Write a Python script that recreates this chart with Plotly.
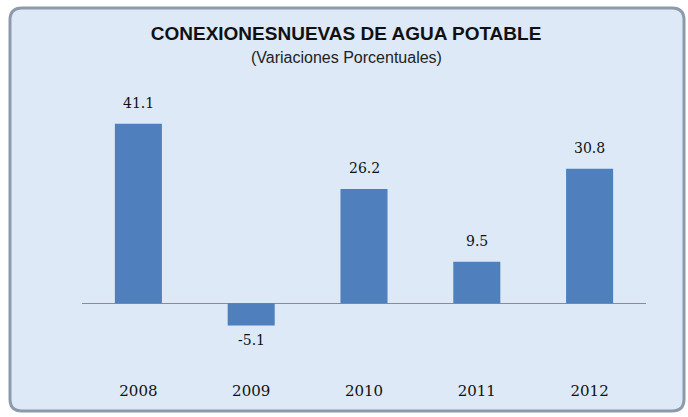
import plotly.graph_objects as go

years = ["2008", "2009", "2010", "2011", "2012"]
values = [41.1, -5.1, 26.2, 9.5, 30.8]
value_labels = ["41.1", "-5.1", "26.2", "9.5", "30.8"]

W, H = 688, 417
L, R, T, B = 82, 42, 85, 70
pw = W - L - R
ph = H - T - B

def px_to_paper(x, y):
    return (x - L) / pw, (H - B - y) / ph

# rounded frame path in paper coordinates
x0p, y0p, x1p, y1p, r = 10, 8, 684, 411, 12
def P(x, y):
    a, b = px_to_paper(x, y)
    return f"{a:.5f},{b:.5f}"
path = (f"M {P(x0p + r, y0p)} L {P(x1p - r, y0p)} Q {P(x1p, y0p)} {P(x1p, y0p + r)} "
        f"L {P(x1p, y1p - r)} Q {P(x1p, y1p)} {P(x1p - r, y1p)} "
        f"L {P(x0p + r, y1p)} Q {P(x0p, y1p)} {P(x0p, y1p - r)} "
        f"L {P(x0p, y0p + r)} Q {P(x0p, y0p)} {P(x0p + r, y0p)} Z")

fig = go.Figure()
fig.add_trace(go.Bar(
    x=years, y=values,
    marker=dict(color="#4F7FBD", line=dict(width=0)),
    hoverinfo="skip",
))

annotations = []
for i, (v, lab) in enumerate(zip(values, value_labels)):
    annotations.append(dict(
        x=i, y=v, xref="x", yref="y", text=lab, showarrow=False,
        yanchor="middle", yshift=21 if v >= 0 else -14,
        font=dict(family="DejaVu Serif", size=14, color="#111111"),
    ))

sx, sy = px_to_paper(346, 57)
annotations.append(dict(
    x=sx, y=sy, xref="paper", yref="paper", text="(Variaciones Porcentuales)",
    showarrow=False, xanchor="center", yanchor="middle",
    font=dict(family="Liberation Sans", size=16, color="#222222"),
))

fig.update_layout(
    width=W, height=H,
    margin=dict(l=L, r=R, t=T, b=B),
    paper_bgcolor="white",
    plot_bgcolor="rgba(0,0,0,0)",
    title=dict(
        text="<b>CONEXIONESNUEVAS DE AGUA POTABLE</b>",
        x=0.503, xref="container", xanchor="center",
        y=(H - 33) / H, yref="container", yanchor="middle",
        font=dict(family="Liberation Sans", size=19, color="#111111"),
    ),
    bargap=0.583,
    showlegend=False,
    xaxis=dict(
        type="category", range=[-0.5, 4.5], showgrid=False, showline=False, ticks="",
        ticklabelstandoff=33,
        tickfont=dict(family="DejaVu Serif", size=15, color="#111111"),
    ),
    yaxis=dict(
        range=[-10, 50], showgrid=False, showticklabels=False, showline=False,
        zeroline=True, zerolinecolor="#8C8C8C", zerolinewidth=1,
    ),
    annotations=annotations,
    shapes=[dict(
        type="path", path=path, xref="paper", yref="paper", layer="below",
        fillcolor="#DDE9F7", line=dict(color="#8E9AAB", width=3),
    )],
)

fig.write_html("out.html", config={"displayModeBar": False},
               post_script="document.body.style.margin='0';document.body.style.overflow='hidden';")
